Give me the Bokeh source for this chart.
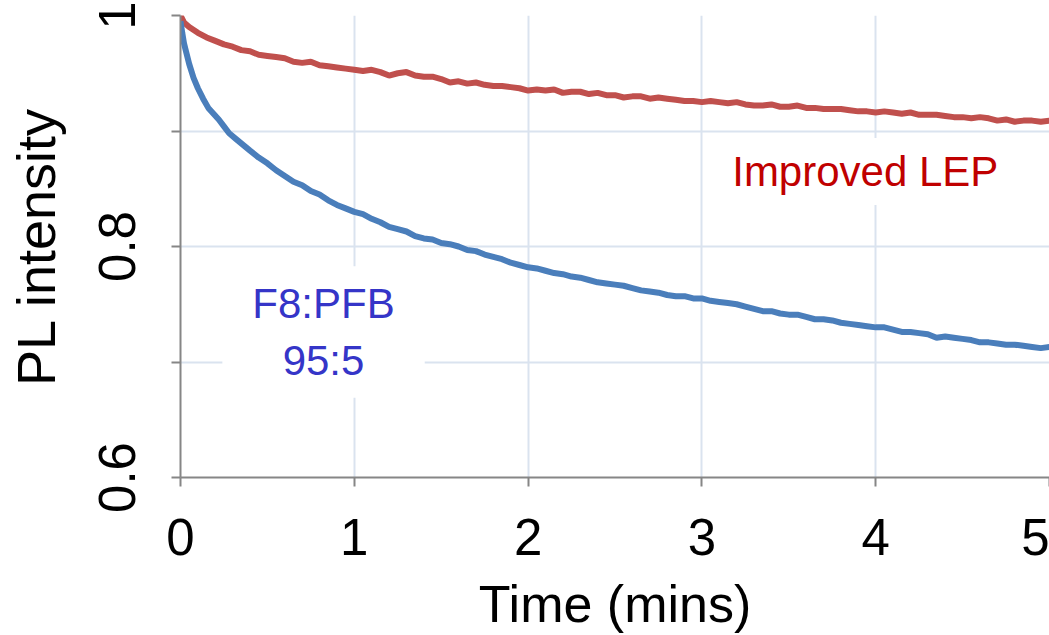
import math
from bokeh.plotting import figure
from bokeh.models import Range1d, FixedTicker, Label
from bokeh.embed import file_html
from bokeh.resources import INLINE

# ---- data ----
time_lep = [0.00, 0.02, 0.05, 0.10, 0.15, 0.20, 0.25, 0.30, 0.35, 0.40, 0.45, 0.50, 0.55, 0.60, 0.65,
            0.70, 0.75, 0.80, 0.85, 0.90, 0.95, 1.00, 1.05, 1.10, 1.15, 1.20, 1.25, 1.30, 1.35, 1.40,
            1.45, 1.50, 1.55, 1.60, 1.65, 1.70, 1.75, 1.80, 1.85, 1.90, 1.95, 2.00, 2.05, 2.10, 2.15,
            2.20, 2.25, 2.30, 2.35, 2.40, 2.45, 2.50, 2.55, 2.60, 2.65, 2.70, 2.75, 2.80, 2.85, 2.90,
            2.95, 3.00, 3.05, 3.10, 3.15, 3.20, 3.25, 3.30, 3.35, 3.40, 3.45, 3.50, 3.55, 3.60, 3.65,
            3.70, 3.75, 3.80, 3.85, 3.90, 3.95, 4.00, 4.05, 4.10, 4.15, 4.20, 4.25, 4.30, 4.35, 4.40,
            4.45, 4.50, 4.55, 4.60, 4.65, 4.70, 4.75, 4.80, 4.85, 4.90, 4.95, 5.00]
improved_lep = [1.000, 0.994, 0.990, 0.985, 0.981, 0.978, 0.975, 0.973, 0.970, 0.969, 0.966, 0.965, 0.964,
                0.963, 0.960, 0.959, 0.960, 0.957, 0.956, 0.955, 0.954, 0.953, 0.952, 0.953, 0.951, 0.948,
                0.950, 0.951, 0.948, 0.947, 0.947, 0.945, 0.942, 0.943, 0.941, 0.942, 0.940, 0.939, 0.939,
                0.938, 0.937, 0.935, 0.936, 0.935, 0.936, 0.933, 0.934, 0.934, 0.932, 0.933, 0.931, 0.931,
                0.929, 0.930, 0.930, 0.928, 0.929, 0.928, 0.927, 0.926, 0.926, 0.925, 0.926, 0.925, 0.924,
                0.925, 0.923, 0.922, 0.922, 0.923, 0.921, 0.921, 0.922, 0.920, 0.920, 0.919, 0.919, 0.919,
                0.918, 0.917, 0.917, 0.916, 0.917, 0.916, 0.915, 0.916, 0.914, 0.914, 0.914, 0.913, 0.912,
                0.912, 0.911, 0.912, 0.911, 0.909, 0.910, 0.908, 0.909, 0.909, 0.908, 0.909]

time_f8 = [0.00, 0.01, 0.02, 0.03, 0.05, 0.075, 0.10, 0.13, 0.16, 0.19, 0.22, 0.25, 0.28, 0.32, 0.36,
           0.40, 0.45, 0.50, 0.55, 0.60, 0.65, 0.70, 0.75, 0.80, 0.85, 0.90, 0.95, 1.00, 1.05, 1.10,
           1.15, 1.20, 1.25, 1.30, 1.35, 1.40, 1.45, 1.50, 1.55, 1.60, 1.65, 1.70, 1.75, 1.80, 1.85,
           1.90, 1.95, 2.00, 2.05, 2.10, 2.15, 2.20, 2.25, 2.30, 2.35, 2.40, 2.45, 2.50, 2.55, 2.60,
           2.65, 2.70, 2.75, 2.80, 2.85, 2.90, 2.95, 3.00, 3.05, 3.10, 3.15, 3.20, 3.25, 3.30, 3.35,
           3.40, 3.45, 3.50, 3.55, 3.60, 3.65, 3.70, 3.75, 3.80, 3.85, 3.90, 3.95, 4.00, 4.05, 4.10,
           4.15, 4.20, 4.25, 4.30, 4.35, 4.40, 4.45, 4.50, 4.55, 4.60, 4.65, 4.70, 4.75, 4.80, 4.85,
           4.90, 4.95, 5.00]
f8_pfb = [0.995, 0.985, 0.976, 0.970, 0.958, 0.946, 0.937, 0.928, 0.920, 0.915, 0.910, 0.904, 0.898, 0.893,
          0.888, 0.883, 0.877, 0.872, 0.866, 0.861, 0.856, 0.853, 0.848, 0.845, 0.840, 0.836, 0.833, 0.830,
          0.828, 0.824, 0.821, 0.817, 0.815, 0.813, 0.809, 0.807, 0.806, 0.803, 0.802, 0.800, 0.797, 0.796,
          0.793, 0.791, 0.789, 0.786, 0.784, 0.782, 0.781, 0.779, 0.777, 0.776, 0.774, 0.773, 0.771, 0.769,
          0.768, 0.767, 0.766, 0.764, 0.762, 0.761, 0.760, 0.758, 0.757, 0.757, 0.755, 0.755, 0.753, 0.752,
          0.751, 0.750, 0.748, 0.746, 0.744, 0.744, 0.742, 0.741, 0.741, 0.739, 0.737, 0.737, 0.736, 0.734,
          0.733, 0.732, 0.731, 0.730, 0.730, 0.728, 0.726, 0.726, 0.725, 0.724, 0.721, 0.722, 0.721, 0.720,
          0.719, 0.717, 0.717, 0.716, 0.715, 0.715, 0.714, 0.713, 0.712, 0.713]

x_ticks = [0, 1, 2, 3, 4, 5]
y_ticks = [0.6, 0.7, 0.8, 0.9, 1.0]
y_tick_labels = {0.6: "0.6", 0.7: "", 0.8: "0.8", 0.9: "", 1.0: "1"}

FONT = "Liberation Sans"

p = figure(width=1049, height=635, output_backend="svg", toolbar_location=None,
           x_range=Range1d(0, 5), y_range=Range1d(0.6, 1.0),
           min_border_left=180, min_border_right=0, min_border_top=15, min_border_bottom=157)
p.outline_line_color = None
p.background_fill_color = "white"
p.border_fill_color = "white"

# axes
p.xaxis.ticker = FixedTicker(ticks=x_ticks)
p.yaxis.ticker = FixedTicker(ticks=y_ticks)
for ax in (p.xaxis[0], p.yaxis[0]):
    ax.axis_line_color = "#868686"
    ax.axis_line_width = 2
    ax.major_tick_line_color = "#868686"
    ax.major_tick_line_width = 2
    ax.major_tick_out = 9
    ax.major_tick_in = 0
    ax.minor_tick_line_color = None
    ax.axis_label_text_font = FONT
    ax.axis_label_text_font_style = "normal"
    ax.axis_label_text_font_size = "52px"
    ax.axis_label_text_color = "black"
    ax.major_label_text_font = FONT
    ax.major_label_text_color = "black"
    ax.major_label_text_font_size = "51px"

p.xaxis.major_label_standoff = 32
p.xaxis.axis_label = "Time (mins)"
p.xaxis.axis_label_standoff = 17

p.yaxis.major_label_overrides = y_tick_labels
p.yaxis.major_label_orientation = "vertical"
p.yaxis.major_label_standoff = 37
p.yaxis.axis_label = "PL intensity"
p.yaxis.axis_label_text_font_size = "54px"
p.yaxis.axis_label_standoff = 30

# grid
p.xgrid.grid_line_color = "#dae3ef"
p.ygrid.grid_line_color = "#dae3ef"
p.xgrid.grid_line_width = 2
p.ygrid.grid_line_width = 2

# series
p.line(time_lep, improved_lep, line_color="#c0504d", line_width=6)
p.line(time_f8, f8_pfb, line_color="#4a7ebb", line_width=6)

# annotations (padding given as (horizontal, vertical))
p.add_layout(Label(x=3.94, y=0.865, text="Improved LEP", text_align="center",
                   text_baseline="middle", text_font=FONT, text_font_size="42px",
                   text_color="#c00000", background_fill_color="white", padding=(20, 10)))
p.add_layout(Label(x=0.823, y=0.726, text="F8:PFB\n95:5", text_align="center",
                   text_baseline="middle", text_font=FONT, text_font_size="42px",
                   text_color="#3535c8", background_fill_color="white", padding=(30, 14)))

open("out.html", "w").write(file_html(p, INLINE))
